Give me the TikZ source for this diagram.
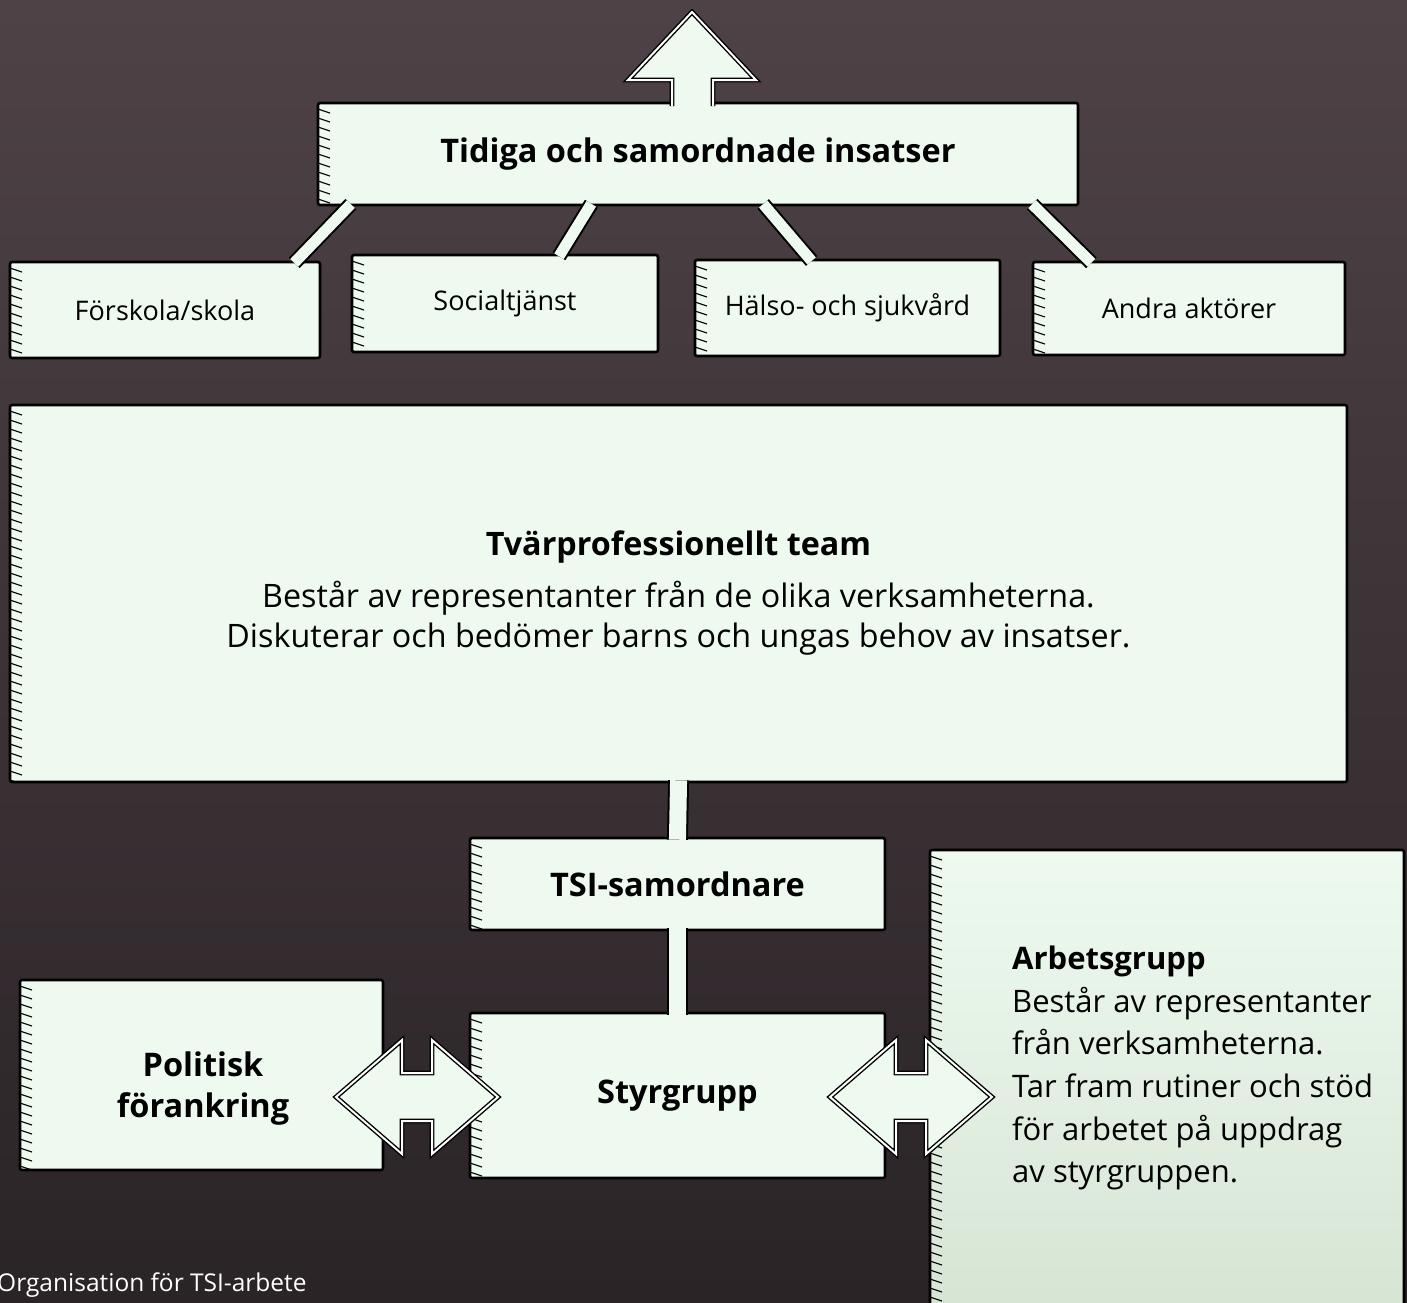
\documentclass[tikz,border=0pt]{standalone}
\usepackage{fontspec}
\setmainfont{Open Sans}
\usetikzlibrary{calc}
\definecolor{mint}{RGB}{238,250,240}
\definecolor{mintdark}{RGB}{214,228,212}
\definecolor{bgtop}{RGB}{78,66,70}
\definecolor{bgmid}{RGB}{86,74,77}
\definecolor{bgbot}{RGB}{42,36,39}
\begin{document}
\begin{tikzpicture}[x=1pt,y=-1pt,
  box/.style={draw=black, line width=2.6pt, fill=mint, inner sep=0pt, rounded corners=2pt,
    path picture={\foreach \d in {6,15,...,480}
      \draw[line width=1.1pt,black] ([yshift=-\d pt]path picture bounding box.north west) -- ++(12,4);}},
  smalltxt/.style={font=\fontsize{27}{32}\selectfont},
  boldtxt/.style={font=\fontsize{32.5}{41}\selectfont\bfseries, align=center},
  conn/.style={draw=black, line width=2pt, double=mint, double distance=11pt,
    shorten <=-3pt, shorten >=-3pt},
  vconn/.style={draw=black, line width=2pt, double=mint, double distance=17pt,
    shorten <=-3pt, shorten >=-3pt},
  fatarrow/.pic={
    \draw[draw=black, line width=1.4pt, double=white, double distance=2pt, fill=mint, line join=miter]
      (-81,0) -- (-15,-57) -- (-15,-24) -- (15,-24) -- (15,-57) -- (81,0)
      -- (15,57) -- (15,24) -- (-15,24) -- (-15,57) -- cycle;}
]
\clip (0,0) rectangle (1407,1302);
\useasboundingbox (0,0) rectangle (1407,1302);
\shade[top color=bgtop, middle color=bgmid, bottom color=bgbot] (0,0) rectangle (1407,1302);

% boxes
\node[box, minimum width=760pt, minimum height=102pt, font=\fontsize{32.5}{38}\selectfont\bfseries]
  (top) at (698,154) {Tidiga och samordnade insatser};
\node[box, smalltxt, minimum width=310pt, minimum height=96pt] (b1) at (165,310) {Förskola/skola};
\node[box, smalltxt, minimum width=306pt, minimum height=97pt] (b2) at (505,303.5) {Socialtjänst};
\node[box, smalltxt, minimum width=305pt, minimum height=96pt] (b3) at (847.5,308) {Hälso- och sjukvård};
\node[box, smalltxt, minimum width=312pt, minimum height=93pt] (b4) at (1189,308.5) {Andra aktörer};

\node[box, minimum width=1337pt, minimum height=377pt, align=center, font=\fontsize{32.3}{40}\selectfont]
  (team) at (678.5,593.5)
  {\textbf{Tvärprofessionellt team}\\[12pt]
   Består av representanter från de olika verksamheterna.\\
   Diskuterar och bedömer barns och ungas behov av insatser.};

\node[box, boldtxt, minimum width=415pt, minimum height=92pt] (tsi) at (677.5,884) {TSI-samordnare};
\node[box, boldtxt, minimum width=415pt, minimum height=165pt] (sty) at (677.5,1095.5) {Styrgrupp};
\node[box, minimum width=363pt, minimum height=190pt] (pol) at (201.5,1075) {};
\node[boldtxt, inner sep=0pt] (poltxt) at (203,1089) {Politisk\\förankring};
\node[box, top color=mint, bottom color=mintdark, minimum width=474pt, minimum height=470pt] (arb) at (1167,1085) {};
\node[anchor=north west, inner sep=0pt, align=left, font=\fontsize{31}{42.6}\selectfont]
  (arbtext) at (1012,946)
  {\textbf{Arbetsgrupp}\\
   Består av representanter\\
   från verksamheterna.\\
   Tar fram rutiner och stöd\\
   för arbetet på uppdrag\\
   av styrgruppen.};

% connectors
\draw[conn] ($(top.south west)!0.042!(top.south east)$) -- ($(b1.north west)!0.92!(b1.north east)$);
\draw[conn] ($(top.south west)!0.358!(top.south east)$) -- ($(b2.north west)!0.68!(b2.north east)$);
\draw[conn] ($(top.south west)!0.588!(top.south east)$) -- ($(b3.north west)!0.377!(b3.north east)$);
\draw[conn] ($(top.south west)!0.941!(top.south east)$) -- ($(b4.north west)!0.183!(b4.north east)$);
\draw[vconn] (team.south) -- (tsi.north);
\draw[vconn] (tsi.south) -- (sty.north);

% up arrow
\coordinate (uptip) at (692,12);
\fill[mint] (628,80) -- (uptip) -- (756,80) -- (713,80) -- (713,108) -- (672,108) -- (672,80) -- cycle;
\draw[draw=black, line width=1.4pt, double=white, double distance=2pt, line join=miter]
  (672,106) -- (672,80) -- (628,80) -- (uptip) -- (756,80) -- (713,80) -- (713,106);

% double arrows
\coordinate (la) at (417,1097);
\coordinate (ra) at (911,1097);
\pic at (la) {fatarrow};
\pic at (ra) {fatarrow};

% caption
\node[anchor=base west, inner sep=0pt, text=white, font=\fontsize{24.5}{28}\selectfont]
  (cap) at (-3,1291) {Organisation för TSI-arbete};
\end{tikzpicture}
\end{document}
